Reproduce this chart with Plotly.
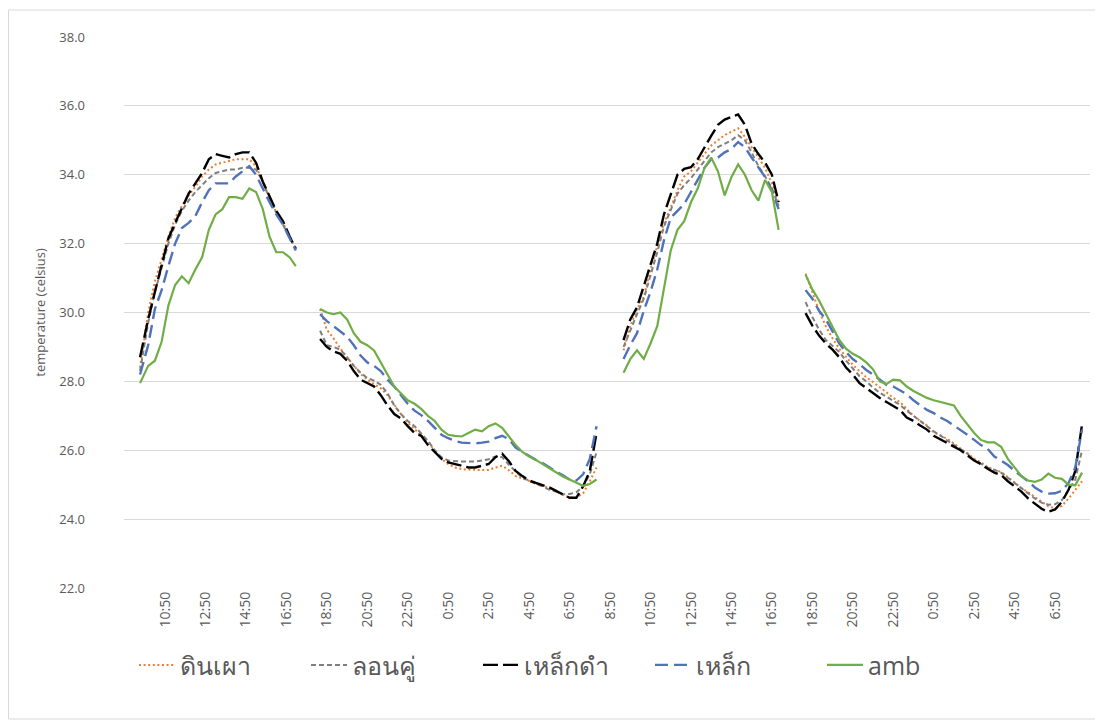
import plotly.graph_objects as go

# ---------------- data ----------------
series_names = ["ดินเผา", "ลอนคู่", "เหล็กดำ", "เหล็ก", "amb"]

day1_time = ["9:36", "10:00", "10:20", "10:40", "11:00", "11:20", "11:40", "12:00",
             "12:20", "12:40", "13:00", "13:20", "13:40", "14:00", "14:20", "14:40",
             "15:00", "15:20", "15:40", "16:00", "16:20", "16:40", "17:00", "17:18"]
day1_dinpao = [28.4, 30.0, 30.9, 31.55, 32.2, 32.75, 33.1, 33.4, 33.65, 33.95, 34.15, 34.3,
               34.35, 34.4, 34.45, 34.45, 34.45, 34.25, 33.8, 33.3, 32.9, 32.6, 32.2, 31.85]
day1_lonku = [28.3, 29.7, 30.6, 31.3, 32.0, 32.55, 32.95, 33.25, 33.5, 33.7, 33.9, 34.05,
              34.1, 34.15, 34.15, 34.2, 34.2, 34.15, 33.8, 33.3, 32.9, 32.55, 32.15, 31.85]
day1_lekdam = [28.7, 29.8, 30.6, 31.35, 32.15, 32.6, 33.05, 33.45, 33.75, 34.05, 34.45, 34.6,
               34.55, 34.5, 34.6, 34.65, 34.65, 34.35, 33.8, 33.35, 32.95, 32.65, 32.2, 31.85]
day1_lek = [28.2, 29.05, 30.1, 30.65, 31.35, 32.0, 32.45, 32.6, 32.8, 33.2, 33.55, 33.75,
            33.75, 33.75, 33.95, 34.1, 34.25, 34.0, 33.6, 33.2, 32.85, 32.55, 32.15, 31.8]
day1_amb = [27.95, 28.45, 28.6, 29.15, 30.2, 30.8, 31.05, 30.85, 31.25, 31.6, 32.4, 32.85,
            33.0, 33.35, 33.35, 33.3, 33.6, 33.5, 33.0, 32.2, 31.75, 31.75, 31.6, 31.35]

night1_time = ["18:30", "18:50", "19:10", "19:30", "19:50", "20:10", "20:30", "20:50",
               "21:10", "21:30", "21:50", "22:10", "22:30", "22:50", "23:10", "23:30",
               "23:50", "0:10", "0:30", "0:50", "1:10", "1:30", "1:50", "2:10", "2:30",
               "2:50", "3:10", "3:30", "3:50", "4:10", "4:30", "4:50", "5:10", "5:30",
               "5:50", "6:10", "6:30", "6:50", "7:10", "7:30", "7:50", "8:10"]
night1_dinpao = [30.1, 29.5, 29.25, 28.95, 28.7, 28.45, 28.22, 28.05, 27.93, 27.8, 27.6, 27.32,
                 27.05, 26.8, 26.62, 26.42, 26.25, 25.98, 25.75, 25.6, 25.5, 25.45, 25.43, 25.43,
                 25.43, 25.43, 25.5, 25.55, 25.42, 25.25, 25.18, 25.1, 25.04, 24.97, 24.9, 24.8,
                 24.7, 24.63, 24.62, 24.75, 25.1, 25.5]
night1_lonku = [29.47, 29.05, 29.0, 28.92, 28.7, 28.45, 28.25, 28.1, 28.02, 27.9, 27.65, 27.3,
                27.05, 26.85, 26.7, 26.5, 26.27, 26.0, 25.8, 25.7, 25.68, 25.67, 25.67, 25.67,
                25.7, 25.74, 25.82, 25.8, 25.58, 25.4, 25.2, 25.12, 25.02, 24.95, 24.85, 24.8,
                24.72, 24.73, 24.78, 24.95, 25.3, 25.95]
night1_lekdam = [29.23, 29.0, 28.87, 28.8, 28.6, 28.3, 28.05, 27.95, 27.85, 27.6, 27.3, 27.05,
                 26.92, 26.7, 26.5, 26.42, 26.15, 25.95, 25.75, 25.65, 25.6, 25.55, 25.5, 25.5,
                 25.55, 25.6, 25.8, 25.9, 25.68, 25.4, 25.25, 25.12, 25.05, 24.98, 24.92, 24.82,
                 24.72, 24.62, 24.62, 24.95, 25.4, 26.5]
night1_lek = [29.95, 29.75, 29.6, 29.45, 29.3, 29.05, 28.75, 28.55, 28.45, 28.3, 28.05, 27.85,
              27.6, 27.35, 27.15, 27.02, 26.85, 26.65, 26.45, 26.35, 26.27, 26.22, 26.2, 26.2,
              26.22, 26.25, 26.35, 26.42, 26.32, 26.08, 25.95, 25.83, 25.72, 25.63, 25.5, 25.38,
              25.27, 25.15, 25.12, 25.3, 25.75, 26.7]
night1_amb = [30.1, 30.0, 29.95, 30.0, 29.8, 29.4, 29.15, 29.05, 28.9, 28.55, 28.2, 27.85,
              27.65, 27.45, 27.35, 27.2, 27.0, 26.85, 26.6, 26.45, 26.42, 26.4, 26.5, 26.6,
              26.55, 26.7, 26.78, 26.65, 26.4, 26.15, 25.95, 25.82, 25.72, 25.6, 25.48, 25.35,
              25.24, 25.15, 25.05, 24.97, 25.02, 25.15]

day2_time = ["9:30", "9:50", "10:10", "10:30", "10:50", "11:10", "11:30", "11:50",
             "12:10", "12:30", "12:50", "13:10", "13:30", "13:50", "14:10", "14:30",
             "14:50", "15:10", "15:30", "15:50", "16:10", "16:30", "16:50", "17:10"]
day2_dinpao = [28.9, 29.6, 30.1, 30.45, 31.25, 31.95, 32.6, 33.05, 33.55, 33.95, 34.1, 34.35,
               34.6, 34.85, 35.0, 35.15, 35.25, 35.35, 35.1, 34.8, 34.5, 34.2, 33.75, 33.2]
day2_lonku = [29.0, 29.5, 29.95, 30.4, 31.05, 31.75, 32.5, 33.0, 33.45, 33.7, 33.9, 34.15,
              34.4, 34.65, 34.8, 34.9, 35.0, 35.15, 35.0, 34.65, 34.25, 33.95, 33.6, 33.1]
day2_lekdam = [29.2, 29.8, 30.15, 30.75, 31.35, 32.0, 32.85, 33.4, 34.0, 34.17, 34.22, 34.45,
               34.8, 35.13, 35.45, 35.6, 35.68, 35.75, 35.45, 34.9, 34.6, 34.35, 34.0, 33.2]
day2_lek = [28.65, 29.05, 29.4, 30.05, 30.6, 31.25, 32.1, 32.75, 32.95, 33.15, 33.5, 33.85,
            34.2, 34.45, 34.5, 34.65, 34.75, 34.95, 34.8, 34.5, 34.2, 33.93, 33.55, 33.0]
day2_amb = [28.25, 28.65, 28.9, 28.65, 29.1, 29.6, 30.7, 31.8, 32.4, 32.65, 33.2, 33.6,
            34.2, 34.5, 34.1, 33.4, 33.93, 34.3, 34.0, 33.55, 33.25, 33.85, 33.5, 32.4]

night2_time = list(night1_time)
night2_dinpao = [31.13, 30.6, 30.05, 29.6, 29.25, 28.95, 28.7, 28.48, 28.3, 28.12, 27.98, 27.84,
                 27.68, 27.52, 27.4, 27.2, 27.0, 26.85, 26.72, 26.52, 26.43, 26.33, 26.2, 26.04,
                 25.92, 25.75, 25.65, 25.51, 25.43, 25.37, 25.22, 25.05, 24.9, 24.78, 24.65, 24.5,
                 24.37, 24.32, 24.38, 24.6, 24.84, 25.1]
night2_lonku = [30.3, 29.87, 29.5, 29.2, 29.03, 28.85, 28.6, 28.38, 28.15, 28.0, 27.82, 27.67,
                27.55, 27.42, 27.32, 27.15, 27.0, 26.85, 26.68, 26.55, 26.43, 26.28, 26.16, 26.02,
                25.9, 25.72, 25.6, 25.5, 25.43, 25.35, 25.2, 25.05, 24.9, 24.75, 24.6, 24.48,
                24.42, 24.43, 24.55, 24.85, 25.15, 26.0]
night2_lekdam = [29.98, 29.62, 29.33, 29.1, 28.92, 28.7, 28.4, 28.2, 27.95, 27.8, 27.67, 27.52,
                 27.4, 27.28, 27.17, 26.95, 26.85, 26.72, 26.6, 26.42, 26.32, 26.2, 26.1, 26.0,
                 25.85, 25.7, 25.6, 25.46, 25.35, 25.28, 25.1, 24.96, 24.8, 24.6, 24.45, 24.3,
                 24.21, 24.28, 24.5, 24.85, 25.4, 26.75]
night2_lek = [30.65, 30.4, 30.05, 29.8, 29.45, 29.1, 28.85, 28.65, 28.5, 28.33, 28.2, 28.05,
              27.9, 27.85, 27.75, 27.63, 27.45, 27.3, 27.17, 27.08, 26.95, 26.85, 26.72, 26.6,
              26.45, 26.3, 26.15, 26.04, 25.82, 25.7, 25.57, 25.4, 25.25, 25.1, 24.92, 24.8,
              24.74, 24.75, 24.82, 25.05, 25.5, 26.6]
night2_amb = [31.1, 30.67, 30.35, 29.97, 29.55, 29.2, 28.95, 28.8, 28.7, 28.55, 28.35, 28.0,
              27.92, 28.05, 28.03, 27.85, 27.72, 27.62, 27.52, 27.45, 27.4, 27.35, 27.3, 27.0,
              26.75, 26.5, 26.3, 26.23, 26.23, 26.1, 25.75, 25.5, 25.25, 25.12, 25.08, 25.15,
              25.32, 25.2, 25.17, 25.0, 24.98, 25.35]

tick_text = ["10:50", "12:50", "14:50", "16:50", "18:50", "20:50", "22:50", "0:50", "2:50",
             "4:50", "6:50", "8:50", "10:50", "12:50", "14:50", "16:50", "18:50", "20:50",
             "22:50", "0:50", "2:50", "4:50", "6:50"]

y_ticks = [22, 24, 26, 28, 30, 32, 34, 36, 38]


# ---------------- helpers ----------------
def to_hours(times, start_day):
    """Convert clock strings to elapsed hours, rolling over midnight."""
    out, day, prev = [], start_day, None
    for s in times:
        h, m = s.split(":")
        v = int(h) + int(m) / 60.0
        if prev is not None and v < prev:
            day += 1
        prev = v
        out.append(day * 24 + v)
    return out


segments = [
    (to_hours(day1_time, 0), [day1_dinpao, day1_lonku, day1_lekdam, day1_lek, day1_amb]),
    (to_hours(night1_time, 0), [night1_dinpao, night1_lonku, night1_lekdam, night1_lek, night1_amb]),
    (to_hours(day2_time, 1), [day2_dinpao, day2_lonku, day2_lekdam, day2_lek, day2_amb]),
    (to_hours(night2_time, 1), [night2_dinpao, night2_lonku, night2_lekdam, night2_lek, night2_amb]),
]

tick_vals = to_hours(tick_text, 0)

styles = [
    dict(color="#ED7D31", width=2.0, dash="2px,2.6px"),
    dict(color="#7F7F7F", width=2.0, dash="5px,3px"),
    dict(color="#000000", width=2.4, dash="15px,5px"),
    dict(color="#4F72B8", width=2.4, dash="13px,6px"),
    dict(color="#70AD47", width=2.2, dash="solid"),
]

fig = go.Figure()
for i, name in enumerate(series_names):
    xs, ys = [], []
    for t, vals in segments:
        if xs:
            xs.append(None)
            ys.append(None)
        xs.extend(t)
        ys.extend(vals[i])
    fig.add_trace(go.Scatter(x=xs, y=ys, name=name, mode="lines",
                             line=styles[i], connectgaps=False))

font_fam = "Open Sans, Noto Sans, sans-serif"

# plot area in page pixels: x 124..1090, y 37..588 (page body has an 8px margin)
PX0, PW, PY1, PH = 124, 966, 588, 551

fig.update_layout(
    width=1103, height=724,
    margin=dict(l=116, r=21, t=29, b=144),
    paper_bgcolor="white", plot_bgcolor="white",
    font=dict(family=font_fam, color="#595959", size=13),
    showlegend=True,
    legend=dict(orientation="h", x=(134 - PX0) / PW, xanchor="left", y=-0.14, yanchor="middle",
                font=dict(size=25, color="#595959"), itemwidth=36,
                entrywidth=121, entrywidthmode="pixels", bgcolor="rgba(0,0,0,0)"),
    shapes=[dict(type="rect", xref="paper", yref="paper",
                 x0=(8.5 - PX0) / PW, x1=(1097 - PX0) / PW,
                 y0=(PY1 - 719) / PH, y1=(PY1 - 10) / PH,
                 line=dict(color="#D9D9D9", width=1), fillcolor="rgba(0,0,0,0)",
                 layer="below")],
)

fig.update_xaxes(range=[8.806, 56.56], tickmode="array", tickvals=tick_vals,
                 ticktext=tick_text, tickangle=-90, showgrid=False, zeroline=False,
                 showline=False, ticks="", tickfont=dict(size=14, color="#595959"))
fig.update_yaxes(range=[22, 38], tickmode="array", tickvals=y_ticks, tickformat=".1f",
                 showgrid=True, gridcolor="#D9D9D9", gridwidth=1, zeroline=False,
                 showline=False, ticks="", ticklabelstandoff=38,
                 tickfont=dict(size=13, color="#595959"),
                 title=dict(text="temperature (celsius)", font=dict(size=13, color="#595959"),
                            standoff=10))

fig.write_html("out.html")
